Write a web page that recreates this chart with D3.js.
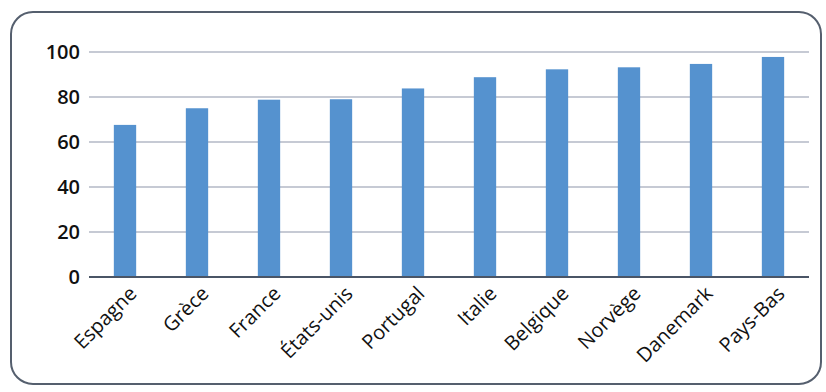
<!DOCTYPE html>
<html>
<head>
<meta charset="utf-8">
<script src="https://cdn.jsdelivr.net/npm/d3@7"></script>
<style>
  body { margin: 0; background: #fff; }
  text { font-family: "Open Sans", sans-serif; fill: #111; }
</style>
</head>
<body>
<svg id="chart" width="826" height="392"></svg>
<script>
const countries = ['Espagne', 'Grèce', 'France', 'États-unis', 'Portugal', 'Italie', 'Belgique', 'Norvège', 'Danemark', 'Pays-Bas'];
const values = [67.6, 75, 78.8, 79, 83.8, 88.8, 92.3, 93.2, 94.7, 97.8];
const yTicks = [0, 20, 40, 60, 80, 100];

const svg = d3.select('#chart');
const margin = { top: 52, right: 17, bottom: 115, left: 89 };
const width = 826 - margin.left - margin.right;
const height = 392 - margin.top - margin.bottom;

// frame
svg.append('rect')
  .attr('x', 11).attr('y', 12)
  .attr('width', 810).attr('height', 372)
  .attr('rx', 22)
  .attr('fill', 'none')
  .attr('stroke', '#555f6e')
  .attr('stroke-width', 2);

const g = svg.append('g').attr('transform', `translate(${margin.left},${margin.top})`);

const x = d3.scaleBand().domain(countries).range([0, width]).paddingInner(0.69).paddingOuter(0.345);
const y = d3.scaleLinear().domain([0, 100]).range([height, 0]);

// grid
g.selectAll('.grid')
  .data(yTicks.filter(d => d > 0))
  .join('line')
  .attr('x1', 0).attr('x2', width)
  .attr('y1', d => y(d)).attr('y2', d => y(d))
  .attr('stroke', '#b3b9c6')
  .attr('stroke-width', 1.5);

// y labels
g.selectAll('.ylab')
  .data(yTicks)
  .join('text')
  .attr('x', -9)
  .attr('y', d => y(d))
  .attr('dy', '0.35em')
  .attr('text-anchor', 'end')
  .attr('font-size', 20)
  .attr('font-weight', 600)
  .text(d => d);

// bars
g.selectAll('.bar')
  .data(values)
  .join('rect')
  .attr('x', (d, i) => x(countries[i]))
  .attr('y', d => y(d))
  .attr('width', x.bandwidth())
  .attr('height', d => height - y(d))
  .attr('fill', '#5592cf');

// baseline
g.append('line')
  .attr('x1', 0).attr('x2', width)
  .attr('y1', height).attr('y2', height)
  .attr('stroke', '#4a5566')
  .attr('stroke-width', 2);

// x labels
g.selectAll('.xlab')
  .data(countries)
  .join('text')
  .attr('transform', d => `translate(${x(d) + x.bandwidth() / 2 + 3},${height + 8}) rotate(-45)`)
  .attr('text-anchor', 'end')
  .attr('dy', '0.7em')
  .attr('font-size', 20)
  .text(d => d);
</script>
</body>
</html>
